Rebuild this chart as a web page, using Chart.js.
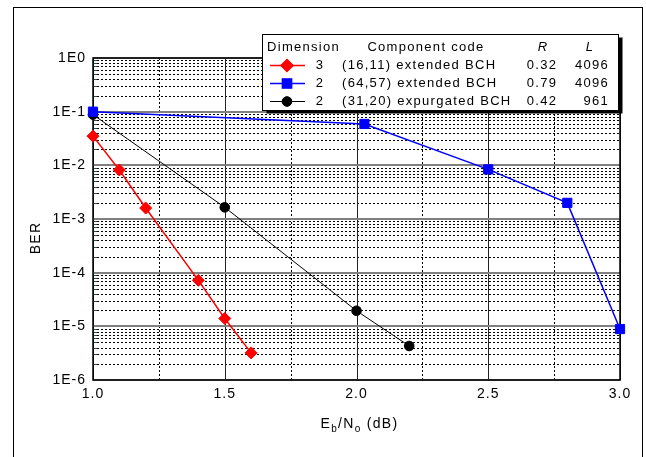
<!DOCTYPE html>
<html><head><meta charset="utf-8">
<script src="https://cdn.jsdelivr.net/npm/chart.js@4/dist/chart.umd.min.js"></script>
<style>html,body{margin:0;padding:0;background:#fff;overflow:hidden;}canvas{display:block;}</style>
</head><body>
<canvas id="c" width="646" height="457"></canvas>
<script>
// ---- data ----
const xRed   = [1.0, 1.1, 1.2, 1.4, 1.5, 1.6];
const berRed = [0.035, 0.0082, 0.0016, 7.2e-5, 1.4e-5, 3.2e-6];
const xBlue   = [1.0, 2.03, 2.5, 2.8, 3.0];
const berBlue = [0.1, 0.059, 0.0084, 0.002, 8.9e-6];
const xBlack   = [1.0, 1.5, 2.0, 2.2];
const berBlack = [0.088, 0.00165, 1.95e-5, 4.3e-6];

const seriesDims  = ['3', '2', '2'];
const seriesCodes = ['(16,11) extended BCH', '(64,57) extended BCH', '(31,20) expurgated BCH'];
const seriesR     = ['0.32', '0.79', '0.42'];
const seriesL     = ['4096', '4096', '961'];

const yTickValues = [1, 1e-1, 1e-2, 1e-3, 1e-4, 1e-5, 1e-6];
const yTickLabels = ['1E0', '1E-1', '1E-2', '1E-3', '1E-4', '1E-5', '1E-6'];
const xMajorTicks = [1.0, 1.5, 2.0, 2.5, 3.0];
const xMinorTicks = [1.25, 1.75, 2.25, 2.75];

const FONT = '"Liberation Sans", Arial, sans-serif';
const pts = (xs, ys) => xs.map((x, i) => ({x: x, y: ys[i]}));

const setSpacing = (ctx, s) => { try { ctx.letterSpacing = s; } catch (e) {} };

const framePlugin = {
  id: 'frame',
  beforeLayout(chart) { setSpacing(chart.ctx, '1px'); },
  beforeDraw(chart) {
    const ctx = chart.ctx;
    setSpacing(ctx, '1px');
    ctx.save();
    ctx.fillStyle = '#fff';
    ctx.fillRect(0, 0, chart.width, chart.height);
    ctx.strokeStyle = '#000';
    ctx.lineWidth = 1;
    ctx.strokeRect(13.5, 7.5, 629, 470);
    ctx.restore();
  },
  beforeDatasetsDraw(chart) {
    const ctx = chart.ctx, a = chart.chartArea;
    const xs = chart.scales.x, ys = chart.scales.y;
    ctx.save();
    // minor horizontal dotted lines
    ctx.strokeStyle = '#000';
    ctx.lineWidth = 1;
    ctx.setLineDash([2, 2]);
    for (let e = -6; e < 0; e++) {
      for (let m = 2; m <= 9; m++) {
        const y = Math.round(ys.getPixelForValue(m * Math.pow(10, e))) + 0.5;
        ctx.beginPath(); ctx.moveTo(a.left, y); ctx.lineTo(a.right, y); ctx.stroke();
      }
    }
    // minor vertical dotted lines
    xMinorTicks.forEach(v => {
      const x = Math.round(xs.getPixelForValue(v)) + 0.5;
      ctx.beginPath(); ctx.moveTo(x, a.top); ctx.lineTo(x, a.bottom); ctx.stroke();
    });
    ctx.setLineDash([]);
    // major vertical solid lines
    ctx.strokeStyle = '#222';
    xMajorTicks.forEach(v => {
      const x = Math.round(xs.getPixelForValue(v)) + 0.5;
      ctx.beginPath(); ctx.moveTo(x, a.top); ctx.lineTo(x, a.bottom); ctx.stroke();
    });
    // decade horizontal grey lines
    ctx.strokeStyle = '#808080';
    ctx.lineWidth = 2;
    yTickValues.forEach(v => {
      const y = Math.round(ys.getPixelForValue(v));
      ctx.beginPath(); ctx.moveTo(a.left, y); ctx.lineTo(a.right, y); ctx.stroke();
    });
    // short inward minor ticks on the left axis
    ctx.strokeStyle = '#2f4f4f';
    ctx.lineWidth = 1;
    for (let e = -6; e < 0; e++) {
      for (let m = 2; m <= 9; m++) {
        const y = Math.round(ys.getPixelForValue(m * Math.pow(10, e))) + 0.5;
        ctx.beginPath(); ctx.moveTo(a.left, y); ctx.lineTo(a.left + 4, y); ctx.stroke();
      }
    }
    // plot frame
    ctx.strokeStyle = '#000';
    ctx.lineWidth = 1.5;
    ctx.strokeRect(a.left, a.top, a.right - a.left, a.bottom - a.top);
    ctx.restore();
  },
  afterDraw(chart) {
    const ctx = chart.ctx, a = chart.chartArea;
    const ds = chart.data.datasets;
    ctx.save();
    setSpacing(ctx, '1.3px');
    // axis titles
    ctx.fillStyle = '#000';
    ctx.textBaseline = 'alphabetic';
    const big = '14px ' + FONT, small = '10px ' + FONT;
    const parts = [['E', big, 0], ['b', small, 4], ['/N', big, 0], ['o', small, 4], [' (dB)', big, 0]];
    let tw = 0;
    parts.forEach(p => { ctx.font = p[1]; tw += ctx.measureText(p[0]).width; });
    let x = (a.left + a.right) / 2 - tw / 2 + 3;
    const base = 428;
    parts.forEach(p => { ctx.font = p[1]; ctx.fillText(p[0], x, base + p[2]); x += ctx.measureText(p[0]).width; });
    ctx.save();
    ctx.translate(36, 238);
    ctx.rotate(-Math.PI / 2);
    ctx.font = big;
    ctx.textAlign = 'center';
    ctx.textBaseline = 'middle';
    ctx.fillText('BER', 0, 0);
    ctx.restore();

    // legend table
    const L = 262.5, T = 34.5, W = 356, H = 76;
    ctx.fillStyle = '#000';
    ctx.fillRect(L + 4, T + 3, W, H);
    ctx.fillStyle = '#fff';
    ctx.fillRect(L, T, W, H);
    ctx.strokeStyle = '#000';
    ctx.lineWidth = 1;
    ctx.strokeRect(L, T, W, H);
    ctx.fillStyle = '#000';
    ctx.textBaseline = 'middle';
    const f = '13px ' + FONT, fi = 'italic 13px ' + FONT;
    ctx.font = f;
    ctx.textAlign = 'left';
    ctx.fillText('Dimension', 267, 47);
    ctx.textAlign = 'center';
    ctx.fillText('Component code', 426, 47);
    ctx.font = fi;
    ctx.fillText('R', 543, 47);
    ctx.fillText('L', 590, 47);
    const rowsY = [65, 83, 101];
    ds.forEach((d, i) => {
      const y = rowsY[i];
      ctx.strokeStyle = d.borderColor;
      ctx.lineWidth = d.borderWidth;
      ctx.beginPath(); ctx.moveTo(270, y + 0.5); ctx.lineTo(305, y + 0.5); ctx.stroke();
      Chart.helpers.drawPoint(ctx, {pointStyle: d.pointStyle, rotation: 0, radius: d.pointRadius, borderWidth: 1}, 287, y + 0.5);
      ctx.fillStyle = d.backgroundColor;
      ctx.fill();
      ctx.fillStyle = '#000';
      ctx.font = f;
      ctx.textAlign = 'center';
      ctx.fillText(seriesDims[i], 320, y);
      ctx.textAlign = 'left';
      ctx.fillText(seriesCodes[i], 342, y);
      ctx.textAlign = 'center';
      ctx.fillText(seriesR[i], 542, y);
      ctx.textAlign = 'right';
      ctx.fillText(seriesL[i], 609, y);
    });
    ctx.restore();
  }
};

new Chart(document.getElementById('c'), {
  type: 'scatter',
  data: {
    datasets: [
      {label: seriesCodes[0], data: pts(xRed, berRed), showLine: true, borderColor: '#ff0000', backgroundColor: '#ff0000',
       borderWidth: 1.5, pointStyle: 'rectRot', pointRadius: 6, pointBorderWidth: 1, clip: false},
      {label: seriesCodes[1], data: pts(xBlue, berBlue), showLine: true, borderColor: '#0000ff', backgroundColor: '#0000ff',
       borderWidth: 1.5, pointStyle: 'rect', pointRadius: 6.5, pointBorderWidth: 1, clip: false},
      {label: seriesCodes[2], data: pts(xBlack, berBlack), showLine: true, borderColor: '#000000', backgroundColor: '#000000',
       borderWidth: 1, pointStyle: 'circle', pointRadius: 4.8, pointBorderWidth: 1, clip: false}
    ]
  },
  options: {
    responsive: false,
    animation: false,
    devicePixelRatio: 1,
    layout: {padding: {left: 0, right: 26, top: 58, bottom: 0}},
    plugins: {legend: {display: false}, tooltip: {enabled: false}},
    scales: {
      x: {
        type: 'linear', min: 1, max: 3,
        afterBuildTicks: s => { s.ticks = xMajorTicks.map(v => ({value: v})); },
        ticks: {color: '#000', font: {family: FONT, size: 14}, padding: 6, maxRotation: 0,
                callback: v => v.toFixed(1)},
        grid: {display: false, drawTicks: false},
        border: {display: false},
        afterFit: s => { s.height = 77; }
      },
      y: {
        type: 'logarithmic', min: 1e-6, max: 1,
        afterBuildTicks: s => { s.ticks = yTickValues.map(v => ({value: v})); },
        ticks: {color: '#000', font: {family: FONT, size: 14}, padding: 7,
                callback: (v, i) => yTickLabels[yTickValues.findIndex(t => Math.abs(Math.log10(t) - Math.log10(v)) < 1e-6)]},
        grid: {display: false, drawTicks: false},
        border: {display: false},
        afterFit: s => { s.width = 93; }
      }
    }
  },
  plugins: [framePlugin]
});
</script>
</body></html>
